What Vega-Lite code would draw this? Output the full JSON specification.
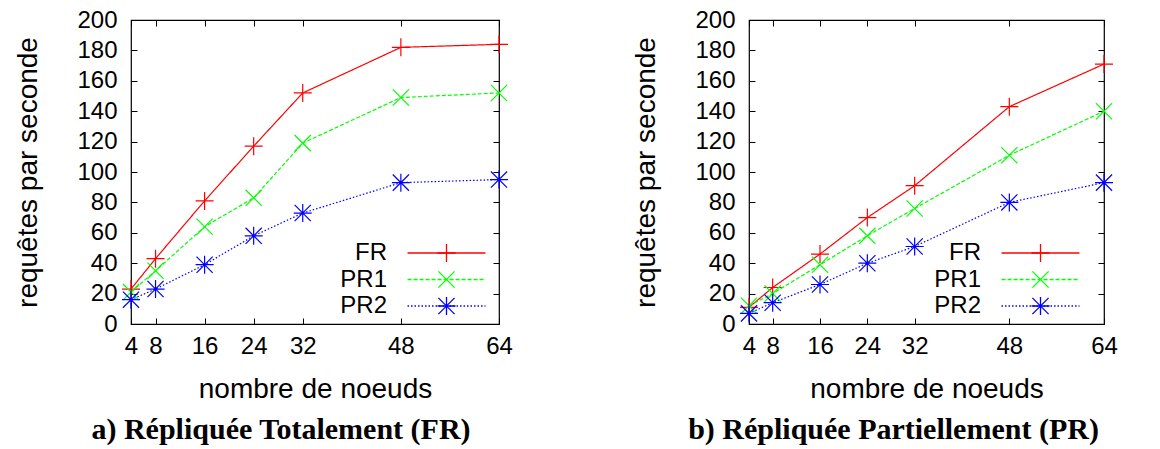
{
  "$schema": "https://vega.github.io/schema/vega-lite/v6.json",
  "background": "white",
  "padding": {"left": 14, "top": 7, "right": 0, "bottom": 0},
  "spacing": 119,
  "config": {
    "view": {"stroke": "black", "strokeWidth": 1.2},
    "font": "Liberation Sans",
    "axis": {"labelFont": "Liberation Sans", "labelFontSize": 24, "labelColor": "black", "titleFont": "Liberation Sans", "titleFontSize": 28, "titleFontWeight": "normal", "titleColor": "black", "domain": false, "grid": false, "tickColor": "black", "tickSize": -6, "tickWidth": 1, "labelFlush": false, "labelOverlap": false},
    "axisX": {"labelPadding": 16},
    "axisY": {"labelPadding": 20},
    "title": {"font": "Liberation Serif", "fontSize": 30, "fontWeight": "bold", "color": "black", "orient": "bottom"},
    "legend": {"orient": "none", "title": null, "labelAlign": "right", "labelFont": "Liberation Sans", "labelFontSize": 24, "labelColor": "black", "symbolSize": 324, "symbolStrokeWidth": 1.3, "rowPadding": 2.5, "padding": 0, "labelOffset": -71.5, "labelLimit": 0}
  },
  "datasets": {
    "fr": [
      {"series": "FR", "n": 4, "v": 23}, {"series": "FR", "n": 8, "v": 43}, {"series": "FR", "n": 16, "v": 81}, {"series": "FR", "n": 24, "v": 117}, {"series": "FR", "n": 32, "v": 152}, {"series": "FR", "n": 48, "v": 182}, {"series": "FR", "n": 64, "v": 184},
      {"series": "PR1", "n": 4, "v": 21}, {"series": "PR1", "n": 8, "v": 35}, {"series": "PR1", "n": 16, "v": 64}, {"series": "PR1", "n": 24, "v": 83}, {"series": "PR1", "n": 32, "v": 119}, {"series": "PR1", "n": 48, "v": 149}, {"series": "PR1", "n": 64, "v": 152},
      {"series": "PR2", "n": 4, "v": 16}, {"series": "PR2", "n": 8, "v": 23}, {"series": "PR2", "n": 16, "v": 39}, {"series": "PR2", "n": 24, "v": 58}, {"series": "PR2", "n": 32, "v": 73}, {"series": "PR2", "n": 48, "v": 93}, {"series": "PR2", "n": 64, "v": 95}
    ],
    "pr": [
      {"series": "FR", "n": 4, "v": 11}, {"series": "FR", "n": 8, "v": 24}, {"series": "FR", "n": 16, "v": 46}, {"series": "FR", "n": 24, "v": 70}, {"series": "FR", "n": 32, "v": 91}, {"series": "FR", "n": 48, "v": 143}, {"series": "FR", "n": 64, "v": 171},
      {"series": "PR1", "n": 4, "v": 12}, {"series": "PR1", "n": 8, "v": 20}, {"series": "PR1", "n": 16, "v": 39}, {"series": "PR1", "n": 24, "v": 58}, {"series": "PR1", "n": 32, "v": 76}, {"series": "PR1", "n": 48, "v": 111}, {"series": "PR1", "n": 64, "v": 140},
      {"series": "PR2", "n": 4, "v": 7}, {"series": "PR2", "n": 8, "v": 14}, {"series": "PR2", "n": 16, "v": 26}, {"series": "PR2", "n": 24, "v": 40}, {"series": "PR2", "n": 32, "v": 51}, {"series": "PR2", "n": 48, "v": 80}, {"series": "PR2", "n": 64, "v": 93}
    ]
  },
  "hconcat": [
    {
      "width": 368, "height": 304,
      "data": {"name": "fr"},
      "title": {"text": "a) Répliquée Totalement (FR)", "orient": "bottom", "dx": -34, "offset": 12},
      "layer": [
        {
          "mark": {"type": "line", "strokeWidth": 1.2},
          "encoding": {
            "x": {"field": "n", "type": "quantitative", "scale": {"domain": [4, 64], "zero": false}, "axis": {"values": [4, 8, 16, 24, 32, 48, 64], "title": "nombre de noeuds", "titlePadding": 17}},
            "y": {"field": "v", "type": "quantitative", "scale": {"domain": [0, 200]}, "axis": {"values": [0, 20, 40, 60, 80, 100, 120, 140, 160, 180, 200], "title": "requêtes par seconde", "titlePadding": 34}},
            "stroke": {"field": "series", "type": "nominal", "scale": {"domain": ["FR", "PR1", "PR2"], "range": ["#ff0000", "#00ff00", "#0000ff"]}, "legend": {"legendX": 303.5, "legendY": 221, "symbolType": "M-4.33,0L4.33,0"}},
            "strokeDash": {"field": "series", "type": "nominal", "scale": {"domain": ["FR", "PR1", "PR2"], "range": [[1, 0], [4, 2], [1.5, 2]]}}
          }
        },
        {
          "mark": {"type": "point", "filled": false, "size": 324, "strokeWidth": 1.2, "opacity": 1},
          "encoding": {
            "x": {"field": "n", "type": "quantitative", "scale": {"domain": [4, 64], "zero": false}, "axis": {"orient": "top", "values": [4, 8, 16, 24, 32, 48, 64], "labels": false, "title": null}},
            "y": {"field": "v", "type": "quantitative", "scale": {"domain": [0, 200]}, "axis": {"orient": "right", "values": [0, 20, 40, 60, 80, 100, 120, 140, 160, 180, 200], "labels": false, "title": null}},
            "color": {"field": "series", "type": "nominal", "scale": {"range": ["#ff0000", "#00ff00", "#0000ff"]}, "legend": {"legendX": 303.5, "legendY": 221, "labelOpacity": 0}},
            "shape": {"field": "series", "type": "nominal", "scale": {"range": ["M-1,0L1,0M0,-1L0,1", "M-0.9,-0.9L0.9,0.9M-0.9,0.9L0.9,-0.9", "M-1,0L1,0M0,-1L0,1M-0.9,-0.9L0.9,0.9M-0.9,0.9L0.9,-0.9"]}}
          }
        }
      ],
      "resolve": {"axis": {"x": "independent", "y": "independent"}}
    },
    {
      "width": 355, "height": 304,
      "data": {"name": "pr"},
      "title": {"text": "b) Répliquée Partiellement (PR)", "orient": "bottom", "dx": -33, "offset": 12},
      "layer": [
        {
          "mark": {"type": "line", "strokeWidth": 1.2},
          "encoding": {
            "x": {"field": "n", "type": "quantitative", "scale": {"domain": [4, 64], "zero": false}, "axis": {"values": [4, 8, 16, 24, 32, 48, 64], "title": "nombre de noeuds", "titlePadding": 17}},
            "y": {"field": "v", "type": "quantitative", "scale": {"domain": [0, 200]}, "axis": {"values": [0, 20, 40, 60, 80, 100, 120, 140, 160, 180, 200], "title": "requêtes par seconde", "titlePadding": 34}},
            "stroke": {"field": "series", "type": "nominal", "scale": {"domain": ["FR", "PR1", "PR2"], "range": ["#ff0000", "#00ff00", "#0000ff"]}, "legend": {"legendX": 279.5, "legendY": 221, "symbolType": "M-4.33,0L4.33,0"}},
            "strokeDash": {"field": "series", "type": "nominal", "scale": {"domain": ["FR", "PR1", "PR2"], "range": [[1, 0], [4, 2], [1.5, 2]]}}
          }
        },
        {
          "mark": {"type": "point", "filled": false, "size": 324, "strokeWidth": 1.2, "opacity": 1},
          "encoding": {
            "x": {"field": "n", "type": "quantitative", "scale": {"domain": [4, 64], "zero": false}, "axis": {"orient": "top", "values": [4, 8, 16, 24, 32, 48, 64], "labels": false, "title": null}},
            "y": {"field": "v", "type": "quantitative", "scale": {"domain": [0, 200]}, "axis": {"orient": "right", "values": [0, 20, 40, 60, 80, 100, 120, 140, 160, 180, 200], "labels": false, "title": null}},
            "color": {"field": "series", "type": "nominal", "scale": {"range": ["#ff0000", "#00ff00", "#0000ff"]}, "legend": {"legendX": 279.5, "legendY": 221, "labelOpacity": 0}},
            "shape": {"field": "series", "type": "nominal", "scale": {"range": ["M-1,0L1,0M0,-1L0,1", "M-0.9,-0.9L0.9,0.9M-0.9,0.9L0.9,-0.9", "M-1,0L1,0M0,-1L0,1M-0.9,-0.9L0.9,0.9M-0.9,0.9L0.9,-0.9"]}}
          }
        }
      ],
      "resolve": {"axis": {"x": "independent", "y": "independent"}}
    }
  ],
  "resolve": {"scale": {"color": "independent", "stroke": "independent", "shape": "independent", "strokeDash": "independent"}, "legend": {"color": "independent", "stroke": "independent", "shape": "independent", "strokeDash": "independent"}}
}
